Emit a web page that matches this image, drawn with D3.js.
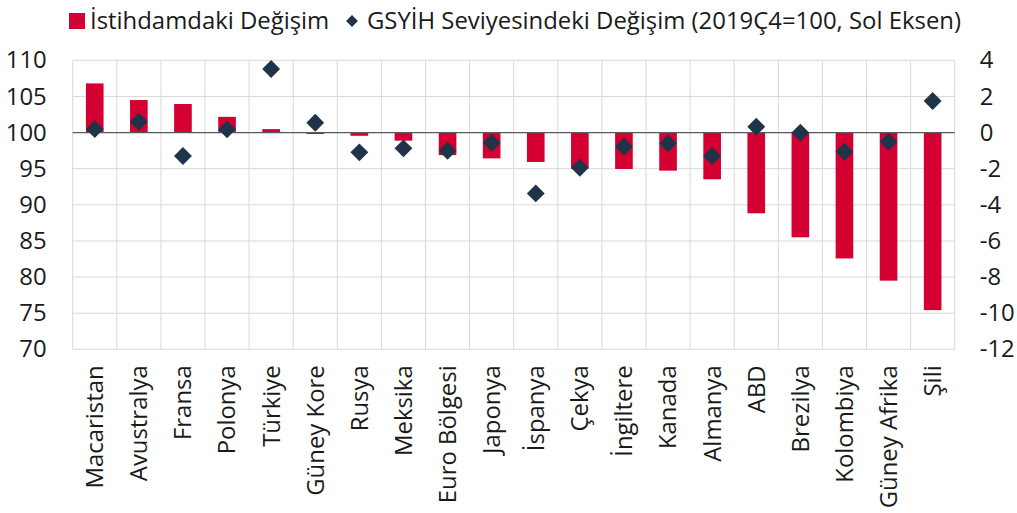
<!DOCTYPE html>
<html>
<head>
<meta charset="utf-8">
<script src="https://cdn.jsdelivr.net/npm/d3@7"></script>
<style>
  body { margin: 0; background: #fff; }
  svg { display: block; font-family: "Open Sans", sans-serif; }
</style>
</head>
<body>
<script>
const countries = ["Macaristan", "Avustralya", "Fransa", "Polonya", "Türkiye", "Güney Kore", "Rusya", "Meksika",
  "Euro Bölgesi", "Japonya", "İspanya", "Çekya", "İngiltere", "Kanada", "Almanya", "ABD", "Brezilya",
  "Kolombiya", "Güney Afrika", "Şili"];
// istihdam degisimi (%), sag eksen
const employment = [2.72, 1.80, 1.58, 0.87, 0.19, -0.08, -0.18, -0.45, -1.25, -1.43, -1.63, -2.0, -2.02, -2.11,
  -2.59, -4.47, -5.80, -6.97, -8.20, -9.83];
// GSYIH seviyesi (2019Ç4=100), sol eksen
const gdp = [100.48, 101.5, 96.75, 100.44, 108.8, 101.36, 97.26, 97.81, 97.48, 98.59, 91.58, 95.13, 98.03, 98.5,
  96.75, 100.8, 99.97, 97.34, 98.73, 104.36];
const leftTicks = [70, 75, 80, 85, 90, 95, 100, 105, 110];
const rightTicks = [-12, -10, -8, -6, -4, -2, 0, 2, 4];

const W = 1017, H = 513;
const m = { top: 60.3, right: 1017 - 954.7, bottom: 513 - 349.3, left: 72.7 };
const red = "#d50032", navy = "#1f3449";
const fs = 23.9;

const svg = d3.select("body").append("svg").attr("width", W).attr("height", H);

const x = d3.scaleBand().domain(countries).range([m.left, W - m.right]);
const yL = d3.scaleLinear().domain([70, 110]).range([H - m.bottom, m.top]);
const yR = d3.scaleLinear().domain([-12, 4]).range([H - m.bottom, m.top]);

// grid
const grid = svg.append("g").attr("stroke", "#d9d9d9").attr("stroke-width", 1);
grid.selectAll("line.h").data(leftTicks).join("line")
  .attr("x1", m.left).attr("x2", W - m.right)
  .attr("y1", d => yL(d)).attr("y2", d => yL(d));
grid.selectAll("line.v").data(d3.range(countries.length + 1)).join("line")
  .attr("x1", i => m.left + i * x.step()).attr("x2", i => m.left + i * x.step())
  .attr("y1", m.top).attr("y2", H - m.bottom);

// bars
const bw = x.bandwidth() * 0.4;
svg.append("g").selectAll("rect").data(employment).join("rect")
  .attr("x", (d, i) => x(countries[i]) + x.bandwidth() / 2 - bw / 2)
  .attr("width", bw)
  .attr("y", d => yR(Math.max(0, d)))
  .attr("height", d => Math.abs(yR(d) - yR(0)))
  .attr("fill", red);

// zero line
svg.append("line")
  .attr("x1", m.left).attr("x2", W - m.right)
  .attr("y1", yR(0)).attr("y2", yR(0))
  .attr("stroke", "#595959").attr("stroke-width", 1.3);

// diamonds
const diamond = d3.symbol().type(d3.symbolSquare).size(160);
svg.append("g").selectAll("path").data(gdp).join("path")
  .attr("d", diamond)
  .attr("transform", (d, i) => `translate(${x(countries[i]) + x.bandwidth() / 2},${yL(d)}) rotate(45)`)
  .attr("fill", navy);

// axes
const axL = svg.append("g").attr("transform", `translate(${m.left},0)`)
  .call(d3.axisLeft(yL).tickValues(leftTicks).tickSize(0).tickPadding(26).tickFormat(d => String(d)));
const axR = svg.append("g").attr("transform", `translate(${W - m.right},0)`)
  .call(d3.axisRight(yR).tickValues(rightTicks).tickSize(0).tickPadding(25).tickFormat(d => String(d)));
[axL, axR].forEach(a => {
  a.select(".domain").remove();
  a.selectAll("text").attr("font-size", fs).attr("fill", "#1a1a1a").attr("font-family", "Open Sans, sans-serif");
});

const axB = svg.append("g").attr("transform", `translate(0,${H - m.bottom})`)
  .call(d3.axisBottom(x).tickSize(0).tickPadding(0));
axB.select(".domain").remove();
axB.selectAll("text")
  .attr("font-size", fs).attr("fill", "#1a1a1a").attr("font-family", "Open Sans, sans-serif")
  .attr("text-anchor", "end")
  .attr("transform", "translate(0,16) rotate(-90)")
  .attr("dy", "0.35em").attr("x", 0).attr("y", 0);

// legend
const lg = svg.append("g").attr("font-size", fs).attr("fill", "#1a1a1a");
lg.append("rect").attr("x", 69).attr("y", 13).attr("width", 16).attr("height", 16).attr("fill", red);
lg.append("text").attr("x", 90).attr("y", 28.5).text("İstihdamdaki Değişim");
lg.append("path").attr("d", d3.symbol().type(d3.symbolSquare).size(70))
  .attr("transform", "translate(352,21) rotate(45)").attr("fill", navy);
lg.append("text").attr("x", 367).attr("y", 28.5).text("GSYİH Seviyesindeki Değişim (2019Ç4=100, Sol Eksen)");
</script>
</body>
</html>
